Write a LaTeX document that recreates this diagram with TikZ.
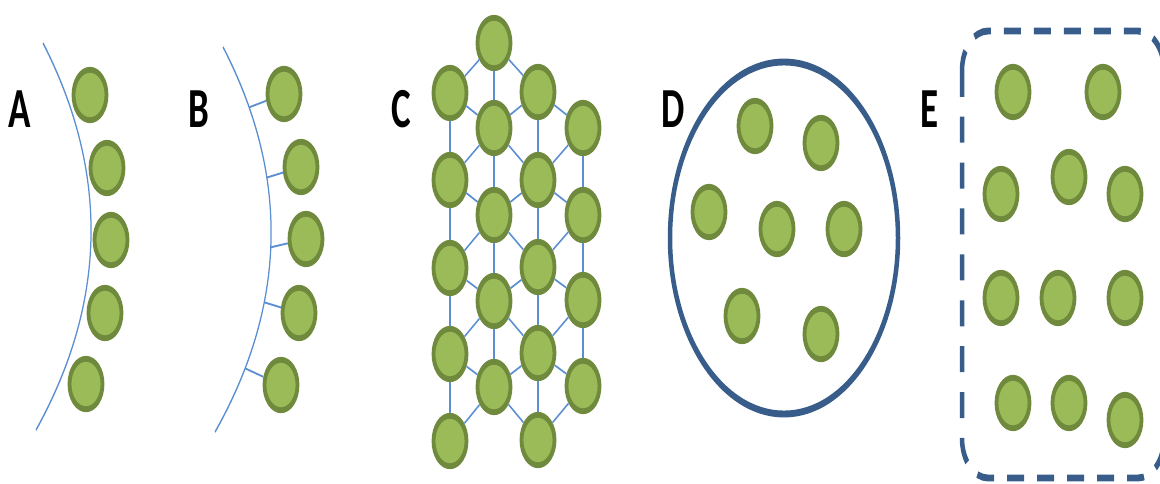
\documentclass[tikz,border=0pt]{standalone}
\usepackage{fontspec}
\setmainfont{Carlito}
\usetikzlibrary{shapes.geometric}
\definecolor{cfill}{HTML}{9BBB59}
\definecolor{cedge}{HTML}{6F8A3C}
\definecolor{lblue}{HTML}{5B8FD2}
\definecolor{dblue}{HTML}{385D8A}
\begin{document}
\begin{tikzpicture}[x=1pt,y=-1pt]
\useasboundingbox (0,0) rectangle (1160,483);
\begin{scope}[transform canvas={yscale=1.53}, y=-0.65359pt,
  cell/.style={circle, draw=cedge, fill=cfill, line width=3.8pt, minimum size=33pt, inner sep=0pt},
  lab/.style={font=\bfseries\fontsize{37}{37}\selectfont, inner sep=0pt, text=black},
  link/.style={draw=lblue, line width=1.25pt},
  ring/.style={draw=dblue, line width=4.5pt},
  dashring/.style={draw=dblue, line width=4.5pt, dash pattern=on 17pt off 13pt, rounded corners=26pt}]

% ---- labels
\node[lab] (labA) at (19.5,109) {A};
\node[lab] (labB) at (199,109) {B};
\node[lab] (labC) at (401,109) {C};
\node[lab] (labD) at (673,109) {D};
\node[lab] (labE) at (929.5,109) {E};

% ---- panel A
\draw[link] (43,43) .. controls (109.3,172.7) and (107,301.7) .. (36,430);
\node[cell] (A1) at (90,95) {};
\node[cell] (A2) at (107,168) {};
\node[cell] (A3) at (111,240) {};
\node[cell] (A4) at (105,313) {};
\node[cell] (A5) at (86,384) {};

% ---- panel B
\draw[link] (223,47) .. controls (289.7,176) and (287,304.3) .. (215,432)
  coordinate[pos=0.156] (bt1) coordinate[pos=0.338] (bt2)
  coordinate[pos=0.519] (bt3) coordinate[pos=0.662] (bt4)
  coordinate[pos=0.834] (bt5);
\node[cell] (B1) at (284,94) {};
\node[cell] (B2) at (301,167) {};
\node[cell] (B3) at (306,239) {};
\node[cell] (B4) at (299,313) {};
\node[cell] (B5) at (281,385) {};
\foreach \i in {1,...,5} \draw[link] (bt\i) -- (B\i);

% ---- panel C
\node[cell] (ct) at (494,43) {};
\node[cell] (c11) at (450,93) {};
\node[cell] (c12) at (450,180) {};
\node[cell] (c13) at (450,268) {};
\node[cell] (c14) at (450,354) {};
\node[cell] (c15) at (450,441) {};
\node[cell] (c21) at (494,128) {};
\node[cell] (c22) at (494,215) {};
\node[cell] (c23) at (494,301) {};
\node[cell] (c24) at (494,387) {};
\node[cell] (c31) at (538,92) {};
\node[cell] (c32) at (538,180) {};
\node[cell] (c33) at (538,267) {};
\node[cell] (c34) at (538,353) {};
\node[cell] (c35) at (538,440) {};
\node[cell] (c41) at (583,128) {};
\node[cell] (c42) at (583,215) {};
\node[cell] (c43) at (583,300) {};
\node[cell] (c44) at (583,386) {};
\foreach \a/\b in {ct/c11, ct/c21, ct/c31,
  c11/c21, c11/c12, c21/c31, c31/c41, c31/c32,
  c21/c12, c21/c22, c21/c32, c41/c32, c41/c42,
  c12/c22, c12/c13, c22/c32, c32/c42, c32/c33,
  c22/c13, c22/c23, c22/c33, c42/c33, c42/c43,
  c13/c23, c13/c14, c23/c33, c33/c43, c33/c34,
  c23/c14, c23/c24, c23/c34, c43/c34, c43/c44,
  c14/c24, c14/c15, c24/c34, c34/c44, c34/c35,
  c24/c15, c24/c35, c44/c35}
  \draw[link] (\a) -- (\b);

% ---- panel D
\draw[ring] (784,238) ellipse [x radius=114, y radius=176];
\node[cell] (d1) at (755,126) {};
\node[cell] (d2) at (821,143) {};
\node[cell] (d3) at (709,212) {};
\node[cell] (d4) at (777,229) {};
\node[cell] (d5) at (844,229) {};
\node[cell] (d6) at (742,316) {};
\node[cell] (d7) at (821,334) {};

% ---- panel E
\draw[dashring] (962,31) rectangle (1164,478);
\node[cell] (e1) at (1013,92) {};
\node[cell] (e2) at (1103,92) {};
\node[cell] (e3) at (1001,194) {};
\node[cell] (e4) at (1069,177) {};
\node[cell] (e5) at (1125,194) {};
\node[cell] (e6) at (1001,298) {};
\node[cell] (e7) at (1058,298) {};
\node[cell] (e8) at (1125,298) {};
\node[cell] (e9) at (1013,403) {};
\node[cell] (e10) at (1069,403) {};
\node[cell] (e11) at (1125,420) {};
\end{scope}
\end{tikzpicture}
\end{document}
